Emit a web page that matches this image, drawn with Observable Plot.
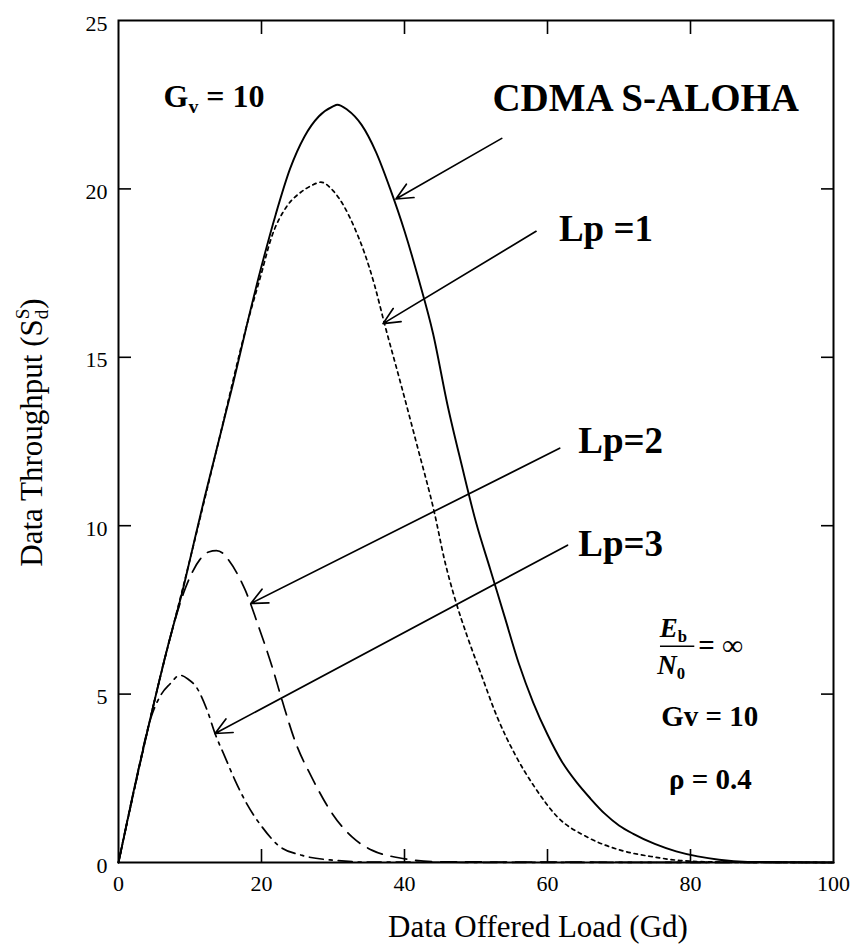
<!DOCTYPE html>
<html>
<head>
<meta charset="utf-8">
<script src="https://cdn.jsdelivr.net/npm/d3@7"></script>
<script src="https://cdn.jsdelivr.net/npm/@observablehq/plot@0.6"></script>
<style>
  html, body { margin: 0; padding: 0; background: #fff; }
  #chart svg { display: block; }
</style>
</head>
<body>
<div id="chart"></div>
<script>
// Data offered load Gd and data throughput S_d^S for each scheme (Gv = 10, rho = 0.4, Eb/N0 = inf)
const alohaG = [0, 2, 4.7, 7, 9, 10, 12, 14, 16, 18, 20, 22, 24, 26, 28, 30, 30.6, 32, 34, 36, 38, 40, 42, 44, 46, 48, 50, 52, 54, 56, 58, 60, 62, 64, 66, 68, 70, 72, 75, 78, 81, 84, 88, 100];
const alohaS = [0, 2.0, 4.5, 6.5, 8.1, 9.0, 10.8, 12.5, 14.2, 16.0, 17.7, 19.25, 20.6, 21.55, 22.15, 22.45, 22.5, 22.35, 21.9, 21.1, 20.0, 18.75, 17.3, 15.7, 13.6, 11.8, 10.1, 8.7, 7.3, 5.9, 4.75, 3.8, 3.0, 2.4, 1.9, 1.45, 1.1, 0.85, 0.55, 0.33, 0.18, 0.08, 0.02, 0];

const lp1G = [0, 4.7, 10, 14, 18, 20, 21.3, 23.6, 25.5, 27, 28.3, 30, 31.5, 33, 34.4, 35.8, 37.2, 39.5, 41.8, 44.2, 45.6, 47.1, 48.8, 50.7, 53, 55.4, 58.2, 61.4, 65.6, 70.3, 75, 79, 85, 100];
const lp1S = [0, 4.5, 9.0, 12.5, 16.0, 17.5, 18.5, 19.5, 19.9, 20.1, 20.2, 19.95, 19.5, 18.85, 18.1, 17.15, 16.0, 14.2, 12.35, 10.37, 8.98, 7.8, 6.7, 5.6, 4.3, 3.23, 2.24, 1.35, 0.75, 0.36, 0.16, 0.05, 0.01, 0];

const lp2G = [0, 4.7, 7, 9.1, 11.4, 12.6, 13.7, 14.6, 15.4, 17.7, 19.6, 21.5, 22.9, 24.7, 27.1, 29.9, 32.7, 35.5, 39.2, 45, 100];
const lp2S = [0, 4.5, 6.5, 8.0, 9.0, 9.22, 9.26, 9.18, 8.98, 8.1, 7.0, 5.8, 4.8, 3.6, 2.5, 1.45, 0.75, 0.36, 0.14, 0.02, 0];

const lp3G = [0, 2, 4.7, 6, 7.2, 8.6, 9.7, 11.0, 12.4, 13.5, 14.9, 16.3, 17.95, 20.1, 22.4, 25.7, 30.4, 35, 100];
const lp3S = [0, 2.0, 4.4, 5.0, 5.3, 5.56, 5.45, 5.17, 4.52, 3.83, 3.13, 2.44, 1.74, 1.05, 0.5, 0.21, 0.06, 0.01, 0];

// Axis ticks
const xTickValues = [0, 20, 40, 60, 80, 100];
const yTickValues = [0, 5, 10, 15, 20, 25];
const xInnerTicks = [20, 40, 60, 80];
const yInnerTicks = [5, 10, 15, 20];

// Callout arrows: tail (label side) -> head (on the curve)
const arrowTailG = [53.6, 58.4, 61.7, 62.8];
const arrowTailS = [21.5, 18.74, 12.3, 9.42];
const arrowHeadG = [38.8, 37.0, 18.5, 13.5];
const arrowHeadS = [19.7, 16.0, 7.69, 3.83];

// Curve labels
const curveLabels = ["Lp =1", "Lp=2", "Lp=3"];
const curveLabelG = [61.6, 64.3, 64.3];
const curveLabelS = [18.8, 12.5, 9.44];

// Parameter notes
const paramText = ["= \u221E", "Gv = 10", "\u03C1 = 0.4"];
const paramG = [81.1, 75.9, 77.0];
const paramS = [6.45, 4.34, 2.47];

const toRows = (g, s) => g.map((d, i) => ({g: d, s: s[i]}));
const aloha = toRows(alohaG, alohaS);
const lp1 = toRows(lp1G, lp1S);
const lp2 = toRows(lp2G, lp2S);
const lp3 = toRows(lp3G, lp3S);
const arrows = arrowTailG.map((d, i) => ({x1: d, y1: arrowTailS[i], x2: arrowHeadG[i], y2: arrowHeadS[i]}));
const labels = curveLabels.map((t, i) => ({t, g: curveLabelG[i], s: curveLabelS[i]}));
const params = paramText.map((t, i) => ({t, g: paramG[i], s: paramS[i]}));

const serif = "'Liberation Serif', 'Times New Roman', Times, serif";

const chart = Plot.plot({
  width: 853,
  height: 950,
  marginLeft: 118,
  marginRight: 20,
  marginTop: 20,
  marginBottom: 88,
  x: {domain: [0, 100], label: null},
  y: {domain: [0, 25], label: null},
  style: {fontFamily: serif, fontSize: "22px", color: "#000", background: "#fff", overflow: "visible"},
  marks: [
    // tick labels
    Plot.axisX(xTickValues, {anchor: "bottom", tickSize: 0, tickPadding: 13, fontSize: 22, label: null}),
    Plot.axisY(yTickValues, {anchor: "left", tickSize: 0, tickPadding: 11, dy: 3, fontSize: 22, label: null}),
    // inward tick marks on all four sides
    Plot.axisX(xInnerTicks, {anchor: "bottom", tickSize: 13, dy: -13, strokeWidth: 1.6, tickFormat: () => "", label: null}),
    Plot.axisX(xInnerTicks, {anchor: "top", tickSize: 13, dy: 13, strokeWidth: 1.6, tickFormat: () => "", label: null}),
    Plot.axisY(yInnerTicks, {anchor: "left", tickSize: 13, dx: 13, strokeWidth: 1.6, tickFormat: () => "", label: null}),
    Plot.axisY(yInnerTicks, {anchor: "right", tickSize: 13, dx: -13, strokeWidth: 1.6, tickFormat: () => "", label: null}),

    // throughput curves
    Plot.line(aloha, {x: "g", y: "s", curve: "monotone-x", stroke: "#000", strokeWidth: 1.9}),
    Plot.line(lp1, {x: "g", y: "s", curve: "monotone-x", stroke: "#000", strokeWidth: 1.7, strokeDasharray: "3.5,4"}),
    Plot.line(lp2, {x: "g", y: "s", curve: "monotone-x", stroke: "#000", strokeWidth: 1.7, strokeDasharray: "16,9"}),
    Plot.line(lp3, {x: "g", y: "s", curve: "monotone-x", stroke: "#000", strokeWidth: 1.7, strokeDasharray: "14,6,3,6"}),

    Plot.frame({stroke: "#000", strokeWidth: 2}),

    // callouts
    Plot.arrow(arrows, {x1: "x1", y1: "y1", x2: "x2", y2: "y2", stroke: "#000", strokeWidth: 1.7, headLength: 16, headAngle: 50}),
    Plot.text(["CDMA S-ALOHA"], {x: 52.3, y: 22.68, textAnchor: "start", fontSize: 39, fontWeight: "bold"}),
    Plot.text(labels, {x: "g", y: "s", text: "t", textAnchor: "start", fontSize: 37, fontWeight: "bold"}),

    Plot.text(["G_{v} = 10"], {x: 6.3, y: 22.75, textAnchor: "start", fontSize: 32, fontWeight: "bold"}),

    // Eb/N0 fraction and the remaining parameters
    Plot.text(["E_{b}"], {x: 77.6, y: 6.95, fontSize: 27, fontStyle: "italic", fontWeight: "bold"}),
    Plot.text(["N_{0}"], {x: 77.3, y: 5.85, fontSize: 27, fontStyle: "italic", fontWeight: "bold"}),
    Plot.ruleY([6.42], {x1: 75.8, x2: 80.6, stroke: "#000", strokeWidth: 1.6}),
    Plot.text(params, {x: "g", y: "s", text: "t", textAnchor: "start", fontSize: 29, fontWeight: "bold"}),

    // axis titles
    Plot.text(["Data Throughput (S_{d}^{S})"], {frameAnchor: "left", textAnchor: "middle", lineAnchor: "middle", dx: -86, dy: -9, rotate: -90, fontSize: 31}),
    Plot.text(["Data Offered Load (Gd)"], {frameAnchor: "bottom", textAnchor: "middle", lineAnchor: "middle", dy: 65, dx: 62, fontSize: 31})
  ]
});

document.getElementById("chart").append(chart);

// Turn _{..} and ^{..} markup into subscript / superscript tspans
function richify(svg) {
  const NS = "http://www.w3.org/2000/svg";
  svg.querySelectorAll("text").forEach(t => {
    const src = t.textContent;
    if (!/[_^]\{/.test(src)) return;
    const fs = parseFloat(getComputedStyle(t).fontSize) || 22;
    while (t.firstChild) t.removeChild(t.firstChild);
    const re = /([_^])\{([^}]*)\}|([^_^]+)/g;
    let m, prevSub = null;
    while ((m = re.exec(src))) {
      const ts = document.createElementNS(NS, "tspan");
      if (m[3] !== undefined) {
        ts.textContent = m[3];
        t.appendChild(ts);
        prevSub = null;
        continue;
      }
      ts.textContent = m[2];
      ts.setAttribute("font-size", (0.62 * fs).toFixed(1));
      ts.setAttribute("font-style", "normal");
      ts.setAttribute("baseline-shift", m[1] === "_" ? (-0.2 * fs).toFixed(1) : (0.42 * fs).toFixed(1));
      t.appendChild(ts);
      if (m[1] === "^" && prevSub) ts.setAttribute("dx", (-prevSub.getComputedTextLength()).toFixed(1));
      prevSub = m[1] === "_" ? ts : null;
    }
  });
}
richify(chart);
</script>
</body>
</html>
